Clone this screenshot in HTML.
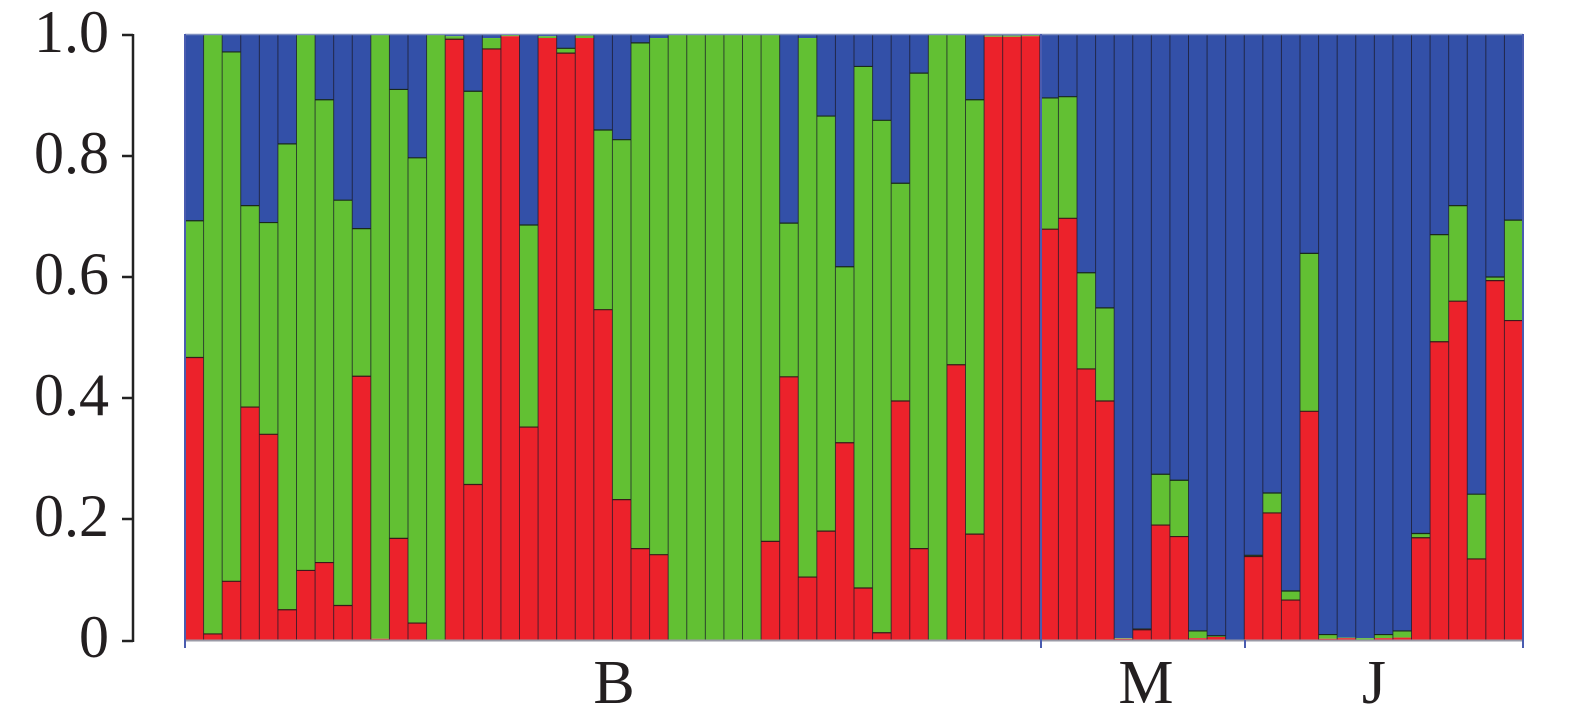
<!DOCTYPE html>
<html><head><meta charset="utf-8"><style>
html,body{margin:0;padding:0;background:#fff;}
svg{display:block;}
text{font-family:"Liberation Serif",serif;fill:#231f20;}
</style></head><body>
<svg id="s" width="1575" height="723" viewBox="0 0 1575 723" xmlns="http://www.w3.org/2000/svg">
<g id="bars"></g>
<line x1="185" y1="640.5" x2="1523" y2="640.5" stroke="#9a9aa6" stroke-width="2"/>
<line x1="185" y1="34.5" x2="1523" y2="34.5" stroke="#8090c0" stroke-width="1.5"/>
<g stroke="#4a5cb0" stroke-width="2">
<line x1="185" y1="34" x2="185" y2="648"/>
<line x1="1041" y1="34" x2="1041" y2="648"/>
<line x1="1245" y1="640" x2="1245" y2="648"/>
<line x1="1523" y1="34" x2="1523" y2="648"/>
</g>
<g stroke="#222" stroke-width="2.5" fill="none">
<line x1="133" y1="34" x2="133" y2="642"/>
<line x1="122" y1="35" x2="133" y2="35"/>
<line x1="122" y1="156" x2="133" y2="156"/>
<line x1="122" y1="277" x2="133" y2="277"/>
<line x1="122" y1="398" x2="133" y2="398"/>
<line x1="122" y1="519" x2="133" y2="519"/>
<line x1="122" y1="641" x2="133" y2="641"/>
</g>
<g font-size="60" text-anchor="end">
<text x="109" y="52">1.0</text>
<text x="109" y="173">0.8</text>
<text x="109" y="294">0.6</text>
<text x="109" y="415">0.4</text>
<text x="109" y="536">0.2</text>
<text x="109" y="657">0</text>
</g>
<g font-size="62" text-anchor="middle">
<text x="614" y="703">B</text>
<text x="1146" y="703">M</text>
<text x="1374" y="703">J</text>
</g>
</svg>
<script>
(function(){
var d=[[.467,.693],[.01,1],[.097,.972],[.385,.718],[.34,.69],[.05,.82],[.115,1],[.128,.893],[.057,.727],[.436,.68],[.002,1],[.168,.91],[.028,.797],[0,1],[.993,.998],[.257,.907],[.977,.995],[.998,1],[.352,.686],[.995,.998],[.97,.978],[.995,.999],[.546,.843],[.232,.827],[.151,.987],[.141,.995],[0,1],[0,1],[0,1],[0,1],[0,1],[.163,1],[.435,.689],[.104,.995],[.18,.866],[.326,.617],[.086,.948],[.012,.859],[.395,.755],[.151,.937],[0,1],[.455,1],[.175,.893],[.997,.999],[.997,.999],[.998,1],
[.679,.896],[.697,.898],[.448,.607],[.395,.549],[.002,.003],[.017,.018],[.19,.274],[.171,.264],[.003,.015],[.005,.007],[0,0],
[.138,.14],[.21,.243],[.066,.081],[.378,.639],[.002,.009],[.003,.004],[0,.003],[.003,.009],[.004,.015],[.169,.176],[.493,.67],[.56,.718],[.134,.241],[.594,.6],[.528,.694]];
var x0=185,w=1338/72,tp=35,h=605,bot=640,s='';
d.forEach(function(v,i){var x=x0+i*w,yr=bot-v[0]*h,yg=bot-v[1]*h;
s+='<rect x="'+x+'" y="'+tp+'" width="'+(w+0.3)+'" height="'+(yg-tp)+'" fill="#3350a8"/>';
s+='<rect x="'+x+'" y="'+yg+'" width="'+(w+0.3)+'" height="'+(yr-yg)+'" fill="#62c033"/>';
s+='<rect x="'+x+'" y="'+yr+'" width="'+(w+0.3)+'" height="'+(bot-yr)+'" fill="#ec222b"/>';
if(v[1]>0.005&&v[1]<0.995)s+='<line x1="'+x+'" x2="'+(x+w)+'" y1="'+yg+'" y2="'+yg+'" stroke="#1a2a1a" stroke-width="1.2"/>';
if(v[0]>0.005&&v[0]<0.995)s+='<line x1="'+x+'" x2="'+(x+w)+'" y1="'+yr+'" y2="'+yr+'" stroke="#3a1a1a" stroke-width="1.2"/>';
if(i>0)s+='<line x1="'+x+'" x2="'+x+'" y1="'+tp+'" y2="'+bot+'" stroke="#1a1a2a" stroke-width="1" opacity="0.75"/>';
});
document.getElementById('bars').innerHTML=s;
})();
</script>
</body></html>
